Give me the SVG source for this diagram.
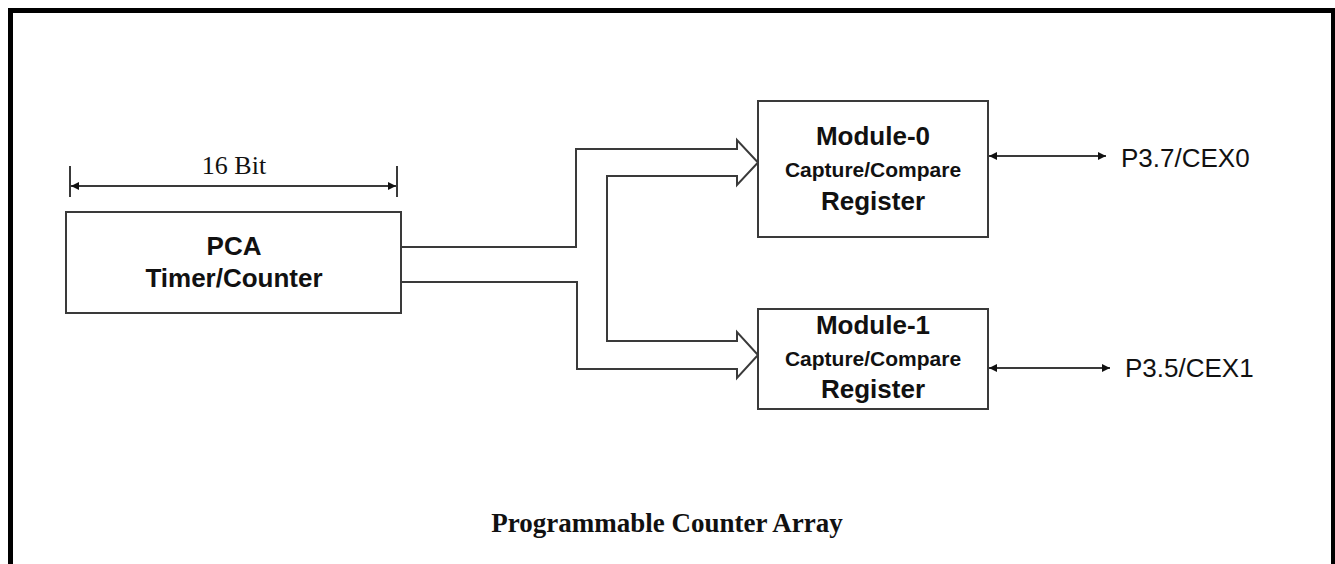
<svg xmlns="http://www.w3.org/2000/svg" width="1335" height="564" viewBox="0 0 1335 564">
  <style>
    .box { fill: #fff; stroke: #3a3a3a; stroke-width: 2; }
    .wire { fill: none; stroke: #3a3a3a; stroke-width: 2; }
    .sans { font-family: "Liberation Sans", Arial, sans-serif; fill: #111; }
    .serif { font-family: "Liberation Serif", "Times New Roman", serif; fill: #111; }
    .b { font-weight: bold; }
  </style>
  <defs>
    <marker id="head" viewBox="0 0 10 10" refX="10" refY="5" markerUnits="userSpaceOnUse" markerWidth="8" markerHeight="10" orient="auto-start-reverse">
      <path d="M0,0 L10,5 L0,10 Z" fill="#111"/>
    </marker>
  </defs>

  <rect width="1335" height="564" fill="#fff"/>
  <!-- frame, open at the bottom -->
  <path d="M10.5,564 V10.5 H1333.5 V564" fill="none" stroke="#000" stroke-width="5"/>

  <!-- width dimension above the timer -->
  <g id="dimension">
    <line x1="70" y1="166" x2="70" y2="197" class="wire"/>
    <line x1="397" y1="166" x2="397" y2="197" class="wire"/>
    <line x1="71" y1="186" x2="396" y2="186" class="wire" marker-start="url(#head)" marker-end="url(#head)"/>
    <text x="234" y="174" class="serif" font-size="26" text-anchor="middle">16 Bit</text>
  </g>

  <g id="connectors">
    <!-- wide bus from the timer splitting to both modules -->
    <path class="wire" d="M401,247 H576 V149 H737 V140 L758,162.5 L737,185 V176 H607 V341 H737 V332 L758,355 L737,378 V369 H577 V282 H401"/>
    <!-- pin links -->
    <line x1="989" y1="156" x2="1106" y2="156" class="wire" marker-start="url(#head)" marker-end="url(#head)"/>
    <line x1="989" y1="368" x2="1110" y2="368" class="wire" marker-start="url(#head)" marker-end="url(#head)"/>
  </g>

  <g id="pca">
    <rect x="66" y="212" width="335" height="101" class="box"/>
    <text x="234" y="255" class="sans b" font-size="26" text-anchor="middle">PCA</text>
    <text x="234" y="287" class="sans b" font-size="26" text-anchor="middle">Timer/Counter</text>
  </g>

  <g id="module0">
    <rect x="758" y="101" width="230" height="136" class="box"/>
    <text x="873" y="145" class="sans b" font-size="26" text-anchor="middle">Module-0</text>
    <text x="873" y="177" class="sans b" font-size="21" text-anchor="middle">Capture/Compare</text>
    <text x="873" y="210" class="sans b" font-size="26" text-anchor="middle">Register</text>
  </g>

  <g id="module1">
    <rect x="758" y="309" width="230" height="100" class="box"/>
    <text x="873" y="334" class="sans b" font-size="26" text-anchor="middle">Module-1</text>
    <text x="873" y="366" class="sans b" font-size="21" text-anchor="middle">Capture/Compare</text>
    <text x="873" y="398" class="sans b" font-size="26" text-anchor="middle">Register</text>
  </g>

  <g id="pin0">
    <text x="1121" y="167" class="sans" font-size="26">P3.7/CEX0</text>
  </g>
  <g id="pin1">
    <text x="1125" y="377" class="sans" font-size="26">P3.5/CEX1</text>
  </g>

  <text x="667" y="532" class="serif b" font-size="27" text-anchor="middle">Programmable Counter Array</text>
</svg>
